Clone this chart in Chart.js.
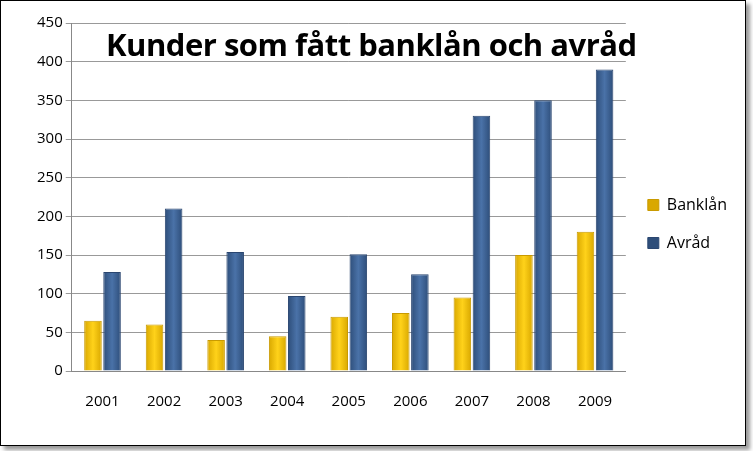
<!DOCTYPE html>
<html><head><meta charset="utf-8">
<script src="https://cdn.jsdelivr.net/npm/chart.js@4"></script>
<style>
body{margin:0;background:#fff;}
#wrap{position:absolute;left:0;top:0;width:744px;height:444px;border:1px solid #000;box-shadow:4px 4px 4px #999;background:#fff;}
#title{position:absolute;left:105px;top:22px;font-family:"Open Sans",sans-serif;font-weight:bold;font-size:31px;color:#000;white-space:nowrap;letter-spacing:-0.5px;}
canvas{position:absolute;left:0;top:0;}
</style></head><body>
<div id="wrap"><canvas id="c" width="744" height="444"></canvas><div id="title">Kunder som fått banklån och avråd</div></div>
<script>
const years=["2001","2002","2003","2004","2005","2006","2007","2008","2009"];
const banklan=[65,60,40,45,70,75,95,150,180];
const avrad=[128,210,154,97,151,125,330,350,390];
const ctx=document.getElementById('c').getContext('2d');
function hgrad(chart,a,b,c){const {ctx}=chart;return (context)=>{const el=context.element;if(!el||el.width==null)return b;const x0=el.x-el.width/2,x1=el.x+el.width/2;const g=ctx.createLinearGradient(x0,0,x1,0);g.addColorStop(0,a);g.addColorStop(0.5,b);g.addColorStop(1,c);return g;};}
const chart=new Chart(ctx,{type:'bar',
data:{labels:years,datasets:[
{label:'Banklån',data:banklan,backgroundColor:'#F2C200',borderColor:'#C99A00',borderWidth:1},
{label:'Avråd',data:avrad,backgroundColor:'#3C6194',borderColor:'#2A4670',borderWidth:1}]},
options:{responsive:false,animation:false,
layout:{padding:{left:33,right:8,top:22,bottom:20}},
datasets:{bar:{categoryPercentage:0.62,barPercentage:0.92}},
plugins:{legend:{position:'right',labels:{font:{family:'Open Sans',size:16},color:'#000',boxWidth:11,boxHeight:11,padding:22},padding:20},tooltip:{enabled:false}},
scales:{x:{grid:{display:false},border:{color:'#888'},ticks:{color:'#000',font:{family:'Open Sans',size:15},padding:14}},
y:{min:0,max:450,ticks:{stepSize:50,color:'#000',font:{family:'Open Sans',size:15}},grid:{color:'#999',tickLength:6},border:{color:'#888'}}}}});
chart.data.datasets[0].backgroundColor=hgrad(chart,'#D9A800','#FFD21A','#D9A800');
chart.data.datasets[1].backgroundColor=hgrad(chart,'#2E4E7A','#4A72A8','#2E4E7A');
chart.update();
</script></body></html>
